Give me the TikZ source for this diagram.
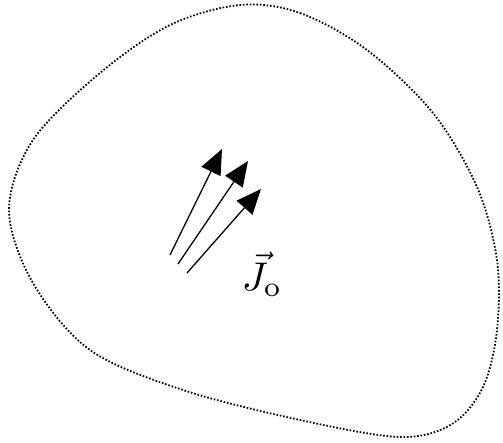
\documentclass[tikz,border=0pt]{standalone}
\usetikzlibrary{arrows.meta}
\begin{document}
\begin{tikzpicture}[x=1pt,y=-1pt,
  boundary/.style={line width=1.8pt, dash pattern=on 1.6pt off 1.8pt},
  current/.style={line width=1.3pt, -{Triangle[length=25pt,width=21pt]}}]
\useasboundingbox (0,0) rectangle (503,443);
\draw[boundary] plot[smooth cycle, tension=0.55] coordinates {
 (240,5) (300,13) (367,50) (433,113) (477,187) (497,260) (497,330)
 (483,387) (452,424) (400,437) (300,420) (183,390) (90,350) (33,283)
 (9,210) (33,140) (100,73) (170,25)};
\coordinate (s1) at (170,255); \coordinate (t1) at (222,149);
\coordinate (s2) at (178,264); \coordinate (t2) at (248,161);
\coordinate (s3) at (187,273); \coordinate (t3) at (261,189);
\draw[current] (s1) -- (t1);
\draw[current] (s2) -- (t2);
\draw[current] (s3) -- (t3);
\node[inner sep=0pt, scale=4] (J) at (262,274) {$\vec{J}_{\mathrm{o}}$};
\end{tikzpicture}
\end{document}
